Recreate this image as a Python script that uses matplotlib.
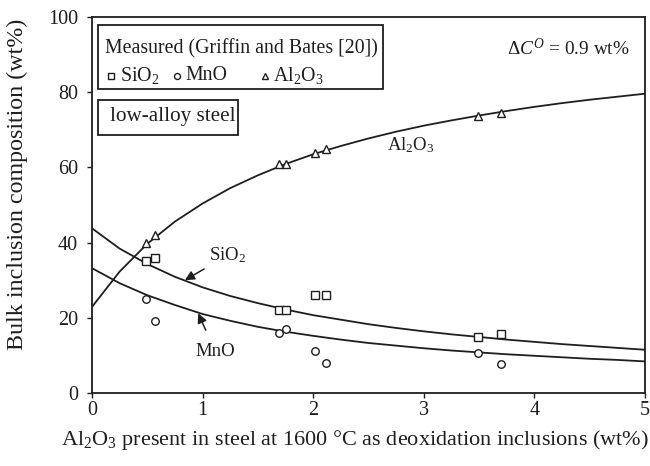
import matplotlib
matplotlib.use("Agg")
import matplotlib.pyplot as plt
from matplotlib.lines import Line2D
from matplotlib.patches import Rectangle

plt.rcParams["font.family"] = ["Liberation Serif", "DejaVu Serif"]
plt.rcParams["mathtext.fontset"] = "custom"
plt.rcParams["mathtext.rm"] = "Liberation Serif"
plt.rcParams["mathtext.it"] = "Liberation Serif:italic"
plt.rcParams["mathtext.bf"] = "Liberation Serif:bold"

INK = "#1e1e1e"

# Measured bulk inclusion compositions (Griffin and Bates)
meas_x = [0.49, 0.57, 1.69, 1.75, 2.02, 2.12, 3.49, 3.70]
meas_sio2 = [35.0, 36.0, 22.0, 22.0, 26.0, 26.0, 14.8, 15.6]
meas_mno = [25.0, 19.1, 16.0, 17.0, 11.2, 8.0, 10.7, 7.6]
meas_al2o3 = [39.9, 42.0, 60.9, 61.0, 63.8, 65.0, 73.6, 74.5]

# Calculated composition curves
curve_x = [0.0, 0.25, 0.5, 0.75, 1.0, 1.25, 1.5, 1.75, 2.0, 2.25, 2.5,
           2.75, 3.0, 3.25, 3.5, 3.75, 4.0, 4.25, 4.5, 4.75, 5.0]
curve_al2o3 = [22.9, 32.3, 39.7, 45.6, 50.4, 54.5, 57.9, 60.9, 63.5, 65.7, 67.7,
               69.5, 71.1, 72.5, 73.8, 75.0, 76.1, 77.1, 78.0, 78.8, 79.6]
curve_sio2 = [43.8, 38.4, 34.3, 30.9, 28.1, 25.8, 23.9, 22.2, 20.7, 19.5, 18.3,
              17.3, 16.4, 15.6, 14.9, 14.2, 13.6, 13.0, 12.5, 12.0, 11.5]
curve_mno = [33.2, 29.2, 26.0, 23.4, 21.0, 19.2, 17.6, 16.3, 15.2, 14.2, 13.3,
             12.6, 11.9, 11.3, 10.8, 10.3, 9.9, 9.5, 9.1, 8.8, 8.4]

x_ticks = [0, 1, 2, 3, 4, 5]
y_ticks = [0, 20, 40, 60, 80, 100]

W, H = 650, 466
fig = plt.figure(figsize=(W / 100, H / 100), dpi=100)
L, R, T, B = 92, 645, 17, 393
ax = fig.add_axes([L / W, 1 - B / H, (R - L) / W, (B - T) / H])


def ax_frac(px, py):
    """Pixel position on the figure -> axes fraction."""
    return (px - L) / (R - L), (B - py) / (B - T)


lw = 1.3
for ys in (curve_al2o3, curve_sio2, curve_mno):
    ax.plot(curve_x, ys, color=INK, lw=lw, solid_capstyle="butt")

mk = dict(linestyle="none", markerfacecolor="white", markeredgecolor=INK,
          markeredgewidth=1.0)
sq = dict(marker="s", markersize=5.4)
ci = dict(marker="o", markersize=5.4)
tr = dict(marker="^", markersize=6.0)
ax.plot(meas_x, meas_sio2, zorder=5, **sq, **mk)
ax.plot(meas_x, meas_mno, zorder=5, **ci, **mk)
ax.plot(meas_x, meas_al2o3, zorder=5, **tr, **mk)

ax.set_xlim(0, 5)
ax.set_ylim(0, 100)
ax.set_xticks(x_ticks)
ax.set_yticks(y_ticks)
ax.tick_params(direction="out", length=3.8, width=1.0, colors=INK,
               labelsize=14.5)
ax.tick_params(axis="x", pad=2)
ax.tick_params(axis="y", pad=6.3)
for s in ax.spines.values():
    s.set_linewidth(1.3)
    s.set_color(INK)

ax.set_xlabel("Al$_2$O$_3$ present in steel at 1600 °C as deoxidation inclusions (wt%)",
              fontsize=16, color=INK)
ax.xaxis.label.set(ha="center", va="center")
ax.xaxis.set_label_coords(*ax_frac(355, 440))
ax.set_ylabel("Bulk inclusion composition (wt%)", fontsize=17.3, color=INK)
ax.yaxis.label.set(ha="center", va="center")
ax.yaxis.set_label_coords(*ax_frac(17, 184))

# Curve labels
ax.text(2.67, 66.0, "Al$_2$O$_3$", fontsize=13.5, color=INK, ha="left", va="center")
ax.annotate("SiO$_2$", xy=(0.84, 30.0), xytext=(1.06, 36.7), fontsize=13.5,
            color=INK, ha="left", va="center",
            arrowprops=dict(arrowstyle="-|>", color=INK, lw=1.1,
                            shrinkA=2, shrinkB=0, mutation_scale=14))
ax.annotate("MnO", xy=(0.96, 21.2), xytext=(1.115, 11.0), fontsize=13.5,
            color=INK, ha="center", va="center",
            arrowprops=dict(arrowstyle="-|>", color=INK, lw=1.1,
                            shrinkA=8, shrinkB=0, mutation_scale=14))

ax.text(*ax_frac(630, 48), r"$\Delta C^{O}$ = 0.9 wt%", fontsize=13.9,
        color=INK, ha="right", va="center", transform=ax.transAxes)

# Boxed note
x0, y1 = ax_frac(98, 135)
x1, y0 = ax_frac(237.5, 100)
ax.add_patch(Rectangle((x0, y1), x1 - x0, y0 - y1, transform=ax.transAxes,
                       fc="white", ec=INK, lw=1.3, zorder=6))
ax.text(*ax_frac(110, 117), "low-alloy steel", fontsize=15.2, color=INK,
        ha="left", va="center", transform=ax.transAxes, zorder=7)

# Legend for measured points
x0, y1 = ax_frac(98, 89)
x1, y0 = ax_frac(383.5, 25)
ax.add_patch(Rectangle((x0, y1), x1 - x0, y0 - y1, transform=ax.transAxes,
                       fc="white", ec=INK, lw=1.3, zorder=6))
ax.text(*ax_frac(105, 49), "Measured (Griffin and Bates [20])", fontsize=14.3,
        color=INK, ha="left", va="center", transform=ax.transAxes, zorder=7)
entries = [(sq, 111, 120, "SiO$_2$"),
           (ci, 177, 185, "MnO"),
           (tr, 265, 273, "Al$_2$O$_3$")]
for style, mx, tx, label in entries:
    kx, ky = ax_frac(mx, 75.5)
    ax.add_line(Line2D([kx], [ky], transform=ax.transAxes, clip_on=False,
                       marker=style["marker"],
                       markersize=style["markersize"] * 0.8, zorder=7, **mk))
    ax.text(*ax_frac(tx, 76), label, fontsize=14.3, color=INK, ha="left",
            va="center", transform=ax.transAxes, zorder=7)

fig.savefig("out.png", dpi=100)
